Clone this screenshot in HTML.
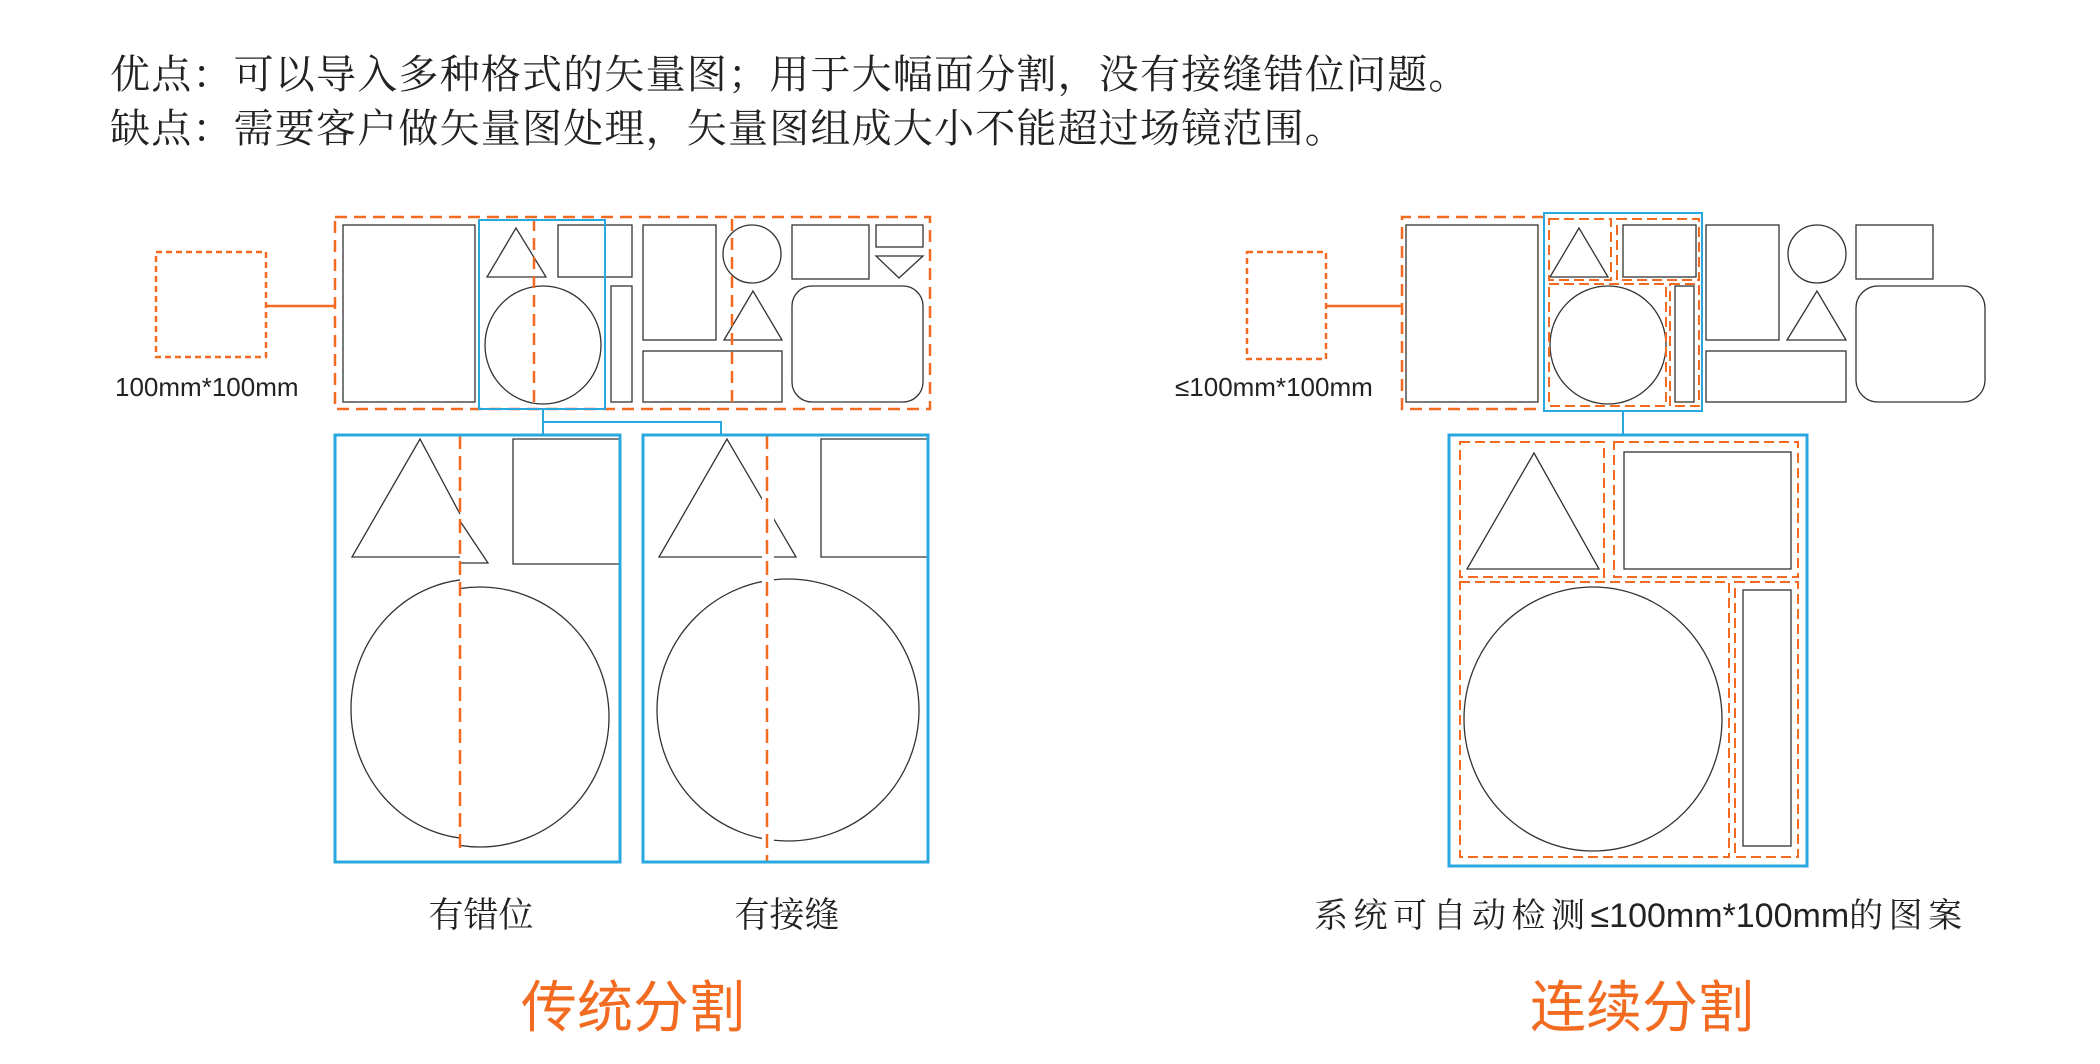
<!DOCTYPE html>
<html><head><meta charset="utf-8"><style>
html,body{margin:0;padding:0;background:#fff;width:2100px;height:1064px;overflow:hidden}
svg{display:block}
.t{font-family:"Liberation Serif","Noto Serif CJK SC",serif;fill:#222}
.s{font-family:"Liberation Sans","Noto Sans CJK SC",sans-serif;fill:#222}
</style></head><body>
<svg width="2100" height="1064" viewBox="0 0 2100 1064" xmlns="http://www.w3.org/2000/svg">
<defs>
<clipPath id="cL1"><rect x="300" y="400" width="163" height="500"/></clipPath>
<clipPath id="cR1"><rect x="463" y="400" width="200" height="500"/></clipPath>
<clipPath id="cL2"><rect x="600" y="400" width="165" height="500"/></clipPath>
<clipPath id="cR2"><rect x="777" y="400" width="200" height="500"/></clipPath>
</defs>
<text class="t" x="110" y="88" font-size="40" letter-spacing="1.2">优点：可以导入多种格式的矢量图；用于大幅面分割，没有接缝错位问题。</text>
<text class="t" x="110" y="142" font-size="40" letter-spacing="1.2">缺点：需要客户做矢量图处理，矢量图组成大小不能超过场镜范围。</text>

<g transform="translate(-3,-2)">
<g fill="none" stroke="#333" stroke-width="1.3">
<rect x="346" y="227" width="132" height="177"/>
<polygon points="519,230 490,279 549,279"/>
<rect x="561" y="227" width="74" height="52"/>
<ellipse cx="546" cy="347" rx="58" ry="59"/>
<rect x="614" y="288" width="21" height="116"/>
<rect x="646" y="227" width="73" height="115"/>
<rect x="646" y="353" width="139" height="51"/>
<ellipse cx="755" cy="256" rx="29" ry="29"/>
<rect x="795" y="227" width="77" height="54"/>
<rect x="879" y="227" width="47" height="22"/>
<polygon points="879,258 926,258 902,280"/>
<polygon points="756,293 727,342 785,342"/>
<rect x="795" y="288" width="131" height="116" rx="20"/>
<path d="M463,516 L423,441 L355,559 L463,559"/>
<path d="M463,523 L491,565 L463,565"/>
<path d="M623,566 L516,566 L516,441 L623,441"/>
<ellipse cx="478" cy="711" rx="124" ry="130" clip-path="url(#cL1)"/>
<ellipse cx="483" cy="719" rx="129" ry="130" clip-path="url(#cR1)"/>
<polygon points="730,441 662,559 799,559" clip-path="url(#cL2)"/>
<polygon points="730,441 662,559 799,559" clip-path="url(#cR2)"/>
<path d="M931,559 L824,559 L824,441 L931,441"/>
<ellipse cx="791" cy="712" rx="131" ry="131" clip-path="url(#cL2)"/>
<ellipse cx="791" cy="712" rx="131" ry="131" clip-path="url(#cR2)"/>
</g>
<g fill="none" stroke="#f26b21" stroke-width="2.5">
<rect x="159" y="254" width="110" height="105" stroke-dasharray="6,4"/>
<line x1="269" y1="308" x2="338" y2="308"/>
<rect x="338" y="219" width="595" height="192" stroke-dasharray="12,7"/>
<line x1="537" y1="221" x2="537" y2="410" stroke-dasharray="12,7"/>
<line x1="735" y1="221" x2="735" y2="410" stroke-dasharray="12,7"/>
<line x1="463" y1="437" x2="463" y2="855" stroke-dasharray="14,7"/>
<line x1="770" y1="437" x2="770" y2="864" stroke-dasharray="14,7"/>
</g>
<g fill="none" stroke="#29a8e0">
<rect x="482" y="222" width="126" height="189" stroke-width="2"/>
<path d="M546,411 L546,424 L724,424 L724,437 M546,424 L546,437" stroke-width="2"/>
<rect x="338" y="437" width="285" height="427" stroke-width="3"/>
<rect x="646" y="437" width="285" height="427" stroke-width="3"/>
</g>
<text class="s" x="118" y="398" font-size="26">100mm*100mm</text>
</g>

<g transform="translate(-7,-2)">
<g fill="none" stroke="#333" stroke-width="1.3">
<rect x="1413" y="227" width="132" height="177"/>
<polygon points="1586,230 1557,279 1615,279"/>
<rect x="1630" y="227" width="73" height="52"/>
<ellipse cx="1615" cy="347" rx="58" ry="59"/>
<rect x="1682" y="288" width="19" height="116"/>
<rect x="1713" y="227" width="73" height="115"/>
<ellipse cx="1824" cy="256" rx="29" ry="29"/>
<rect x="1863" y="227" width="77" height="54"/>
<polygon points="1824,293 1794,342 1853,342"/>
<rect x="1713" y="353" width="140" height="51"/>
<rect x="1863" y="288" width="129" height="116" rx="22"/>
<polygon points="1541,455 1474,571 1606,571"/>
<rect x="1631" y="454" width="167" height="117"/>
<ellipse cx="1600" cy="721" rx="129" ry="132"/>
<rect x="1750" y="592" width="48" height="256"/>
</g>
<g fill="none" stroke="#f26b21" stroke-width="2.5">
<rect x="1254" y="254" width="79" height="107" stroke-dasharray="6,4"/>
<line x1="1333" y1="308" x2="1409" y2="308"/>
<path d="M1551,219 L1409,219 L1409,411 L1551,411" stroke-dasharray="12,7"/>
<g stroke-dasharray="10,5" stroke-width="2">
<rect x="1556" y="221" width="62" height="61"/>
<rect x="1624" y="221" width="82" height="61"/>
<rect x="1556" y="286" width="117" height="122"/>
<rect x="1677" y="286" width="29" height="122"/>
<rect x="1467" y="444" width="144" height="135"/>
<rect x="1621" y="444" width="184" height="135"/>
<rect x="1467" y="584" width="269" height="275"/>
<rect x="1742" y="584" width="63" height="275"/>
</g>
</g>
<g fill="none" stroke="#29a8e0">
<rect x="1551" y="215" width="158" height="198" stroke-width="2"/>
<line x1="1630" y1="413" x2="1630" y2="437" stroke-width="2"/>
<rect x="1456" y="437" width="358" height="431" stroke-width="3"/>
</g>
<text class="s" x="1182" y="398" font-size="26">≤100mm*100mm</text>
</g>

<text class="t" x="481" y="927" font-size="35" text-anchor="middle">有错位</text>
<text class="t" x="787" y="927" font-size="35" text-anchor="middle">有接缝</text>
<text x="1314" y="927" font-size="34"><tspan class="t" letter-spacing="5.5">系统可自动检测</tspan><tspan class="s">≤100mm*100mm</tspan><tspan class="t" letter-spacing="5.5">的图案</tspan></text>
<text class="s" x="633" y="1027" font-size="56" text-anchor="middle" style="fill:#f26b21">传统分割</text>
<text class="s" x="1642" y="1027" font-size="56" text-anchor="middle" style="fill:#f26b21">连续分割</text>
</svg>
</body></html>
